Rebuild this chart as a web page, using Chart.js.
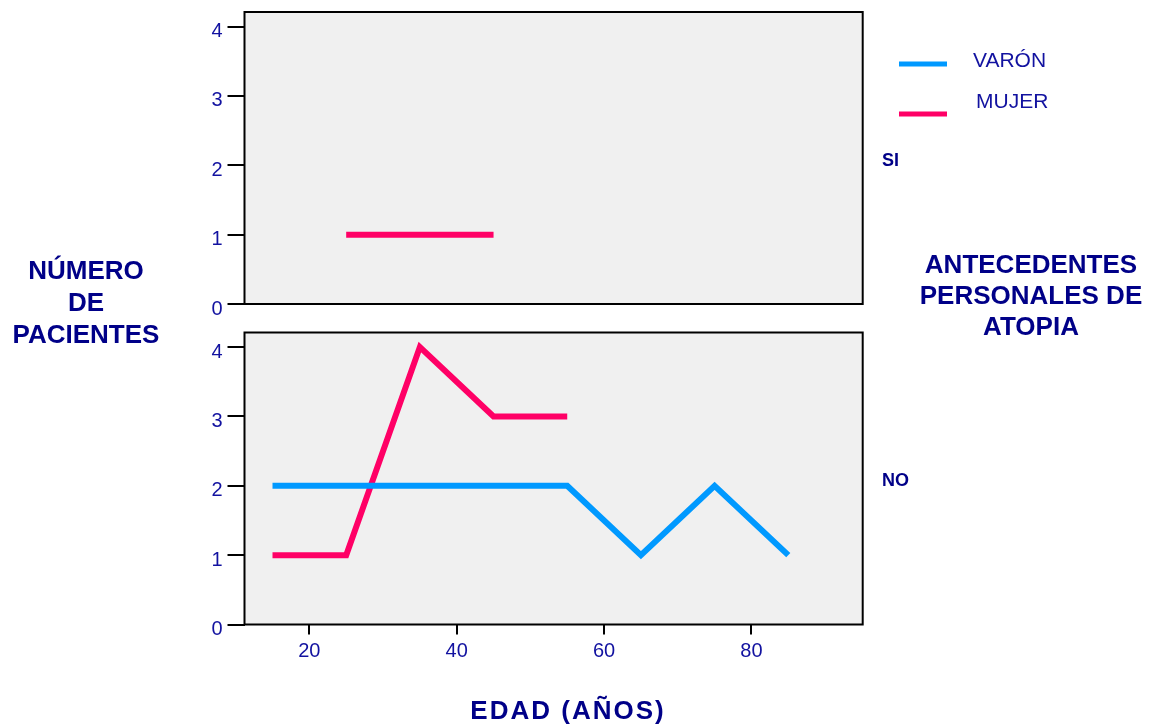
<!DOCTYPE html>
<html>
<head>
<meta charset="utf-8">
<script src="https://cdn.jsdelivr.net/npm/chart.js@4.4.0/dist/chart.umd.min.js"></script>
<style>
  body { margin: 0; background: #fff; }
  #wrap { position: relative; width: 1152px; height: 726px; overflow: hidden; }
  canvas { position: absolute; left: 0; top: 0; }
  #topChart { top: -30px; }
</style>
</head>
<body>
<div id="wrap">
  <canvas id="bottomChart" width="1152" height="726"></canvas>
  <canvas id="topChart" width="1152" height="726"></canvas>
</div>
<script>
// edad (marca de clase) y número de pacientes
const ages = [15, 25, 35, 45, 55, 65, 75, 85];
const varonSi = [null, null, null, null, null, null, null, null];
const mujerSi = [null, 1, 1, 1, null, null, null, null];
const varonNo = [2, 2, 2, 2, 2, 1, 2, 1];
const mujerNo = [1, 1, 4, 3, 3, null, null, null];

const seriesNames = ['VARÓN', 'MUJER'];
const seriesColors = ['#0099ff', '#ff0066'];
const panelNames = ['SI', 'NO'];
const yTicks = [0, 1, 2, 3, 4];
const xTicks = [20, 40, 60, 80];

const TEXT = '#000088';
const TICK = '#1212a0';
const FONT = '"Liberation Sans", Arial, sans-serif';

function points(values) {
    return ages.map((a, i) => ({ x: a, y: values[i] }));
}

function makeDatasets(v, m) {
    return [v, m].map((vals, i) => ({
        label: seriesNames[i],
        data: points(vals),
        borderColor: seriesColors[i],
        borderWidth: 6,
        pointRadius: 0,
        fill: false,
        tension: 0,
        spanGaps: false
    }));
}

const panelPlugin = {
    id: 'panel',
    beforeDraw(chart) {
        const a = chart.chartArea;
        const ctx = chart.ctx;
        ctx.save();
        ctx.fillStyle = '#f0f0f0';
        ctx.fillRect(a.left, a.top, a.right - a.left, a.bottom - a.top);
        ctx.restore();
    },
    afterDraw(chart) {
        const a = chart.chartArea;
        const ctx = chart.ctx;
        ctx.save();
        ctx.strokeStyle = '#000';
        ctx.lineWidth = 2;
        ctx.strokeRect(a.left, a.top, a.right - a.left, a.bottom - a.top);
        ctx.restore();
    }
};

// textos fuera del gráfico: títulos, paneles y leyenda
const labelsPlugin = {
    id: 'labels',
    afterDraw(chart) {
        const ctx = chart.ctx;
        ctx.save();
        ctx.fillStyle = TEXT;
        ctx.textBaseline = 'middle';
        ctx.textAlign = 'center';
        ctx.font = 'bold 26px ' + FONT;
        ['NÚMERO', 'DE', 'PACIENTES'].forEach((t, i) => ctx.fillText(t, 86, 272 + i * 32));
        ['ANTECEDENTES', 'PERSONALES DE', 'ATOPIA'].forEach((t, i) => ctx.fillText(t, 1031, 266 + i * 31));

        ctx.letterSpacing = '2px';
        ctx.fillText('EDAD (AÑOS)', 568, 712);
        ctx.letterSpacing = '0px';

        ctx.textAlign = 'left';
        ctx.font = 'bold 18px ' + FONT;
        ctx.fillText(panelNames[0], 882, 161);
        ctx.fillText(panelNames[1], 882, 481);

        ctx.font = '21px ' + FONT;
        const legendY = [64, 114];
        const textX = [973, 976];
        const textY = [61, 102];
        seriesNames.forEach((name, i) => {
            ctx.strokeStyle = seriesColors[i];
            ctx.lineWidth = 5;
            ctx.beginPath();
            ctx.moveTo(899, legendY[i]);
            ctx.lineTo(947, legendY[i]);
            ctx.stroke();
            ctx.fillStyle = TICK;
            ctx.fillText(name, textX[i], textY[i]);
        });
        ctx.restore();
    }
};

function yScale() {
    return {
        type: 'linear',
        min: 0,
        max: 4.21,
        afterBuildTicks: s => { s.ticks = yTicks.map(v => ({ value: v })); },
        afterFit: s => { s.width = 244.5; },
        ticks: {
            color: TICK,
            font: { family: FONT, size: 20 },
            padding: 5,
            labelOffset: 5
        },
        grid: { drawOnChartArea: false, tickLength: 17, color: '#000', lineWidth: 2 },
        border: { display: false }
    };
}

const common = {
    responsive: false,
    animation: false,
    plugins: { legend: { display: false }, tooltip: { enabled: false } }
};

new Chart(document.getElementById('topChart').getContext('2d'), {
    type: 'line',
    data: { datasets: makeDatasets(varonSi, mujerSi) },
    options: Object.assign({}, common, {
        layout: { padding: { top: 42, right: 289.3, bottom: 392, left: 0 } },
        scales: {
            x: { type: 'linear', min: 11.2, max: 95.1, display: false },
            y: yScale()
        }
    }),
    plugins: [panelPlugin]
});

new Chart(document.getElementById('bottomChart').getContext('2d'), {
    type: 'line',
    data: { datasets: makeDatasets(varonNo, mujerNo) },
    options: Object.assign({}, common, {
        layout: { padding: { top: 332.5, right: 289.3, bottom: 0, left: 0 } },
        scales: {
            x: {
                type: 'linear',
                min: 11.2,
                max: 95.1,
                afterBuildTicks: s => { s.ticks = xTicks.map(v => ({ value: v })); },
                afterFit: s => { s.height = 101.5; },
                ticks: {
                    color: TICK,
                    font: { family: FONT, size: 20 },
                    padding: 5,
                    maxRotation: 0
                },
                grid: { drawOnChartArea: false, tickLength: 10, color: '#000', lineWidth: 2 },
                border: { display: false }
            },
            y: yScale()
        }
    }),
    plugins: [panelPlugin, labelsPlugin]
});
</script>
</body>
</html>
